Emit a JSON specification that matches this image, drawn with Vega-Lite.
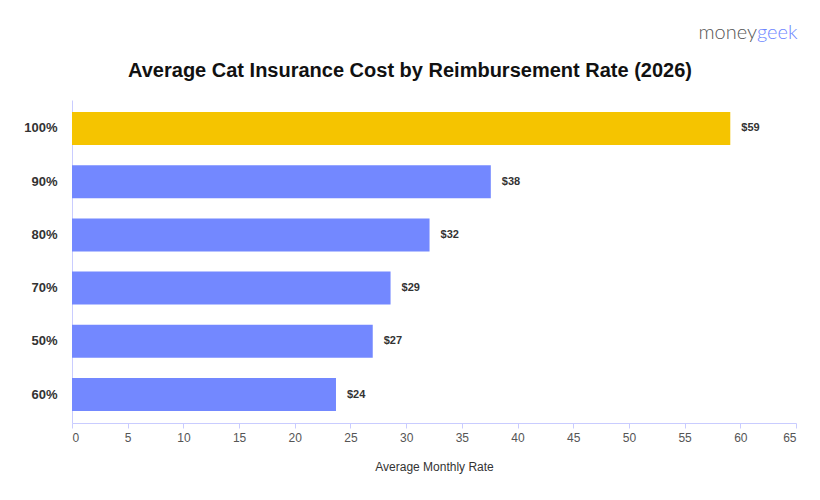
{
  "$schema": "https://vega.github.io/schema/vega-lite/v6.json",
  "autosize": {"type": "none"},
  "width": 724,
  "height": 323,
  "padding": {"left": 72, "top": 100, "right": 24, "bottom": 77},
  "background": "white",
  "title": {
    "text": "Average Cat Insurance Cost by Reimbursement Rate (2026)",
    "font": "Liberation Sans",
    "fontSize": 20,
    "fontWeight": "bold",
    "color": "#111111",
    "anchor": "middle",
    "dx": -24,
    "baseline": "alphabetic",
    "offset": -74
  },
  "config": {
    "view": {"stroke": null},
    "font": "Liberation Sans"
  },
  "datasets": {
    "rates": [
      {"rate": "100%", "cost": 59.1, "label": "$59", "highlight": "yes"},
      {"rate": "90%", "cost": 37.6, "label": "$38", "highlight": "no"},
      {"rate": "80%", "cost": 32.1, "label": "$32", "highlight": "no"},
      {"rate": "70%", "cost": 28.6, "label": "$29", "highlight": "no"},
      {"rate": "50%", "cost": 27.0, "label": "$27", "highlight": "no"},
      {"rate": "60%", "cost": 23.7, "label": "$24", "highlight": "no"}
    ],
    "logo1": [{"part": "money", "pos": 61.5}],
    "logo2": [{"part": "geek", "pos": 61.5}]
  },
  "layer": [
    {
      "data": {"name": "rates"},
      "mark": {"type": "bar"},
      "encoding": {
        "y": {
          "field": "rate",
          "type": "nominal",
          "sort": null,
          "scale": {"paddingInner": 0.38, "paddingOuter": 0.2256},
          "axis": {
            "title": null,
            "ticks": false,
            "labelFontSize": 13,
            "labelFontWeight": "bold",
            "labelColor": "#333333",
            "labelPadding": 15,
            "domainColor": "#c9ccff",
            "domainWidth": 1
          }
        },
        "x": {
          "field": "cost",
          "type": "quantitative",
          "scale": {"domain": [0, 65], "nice": false},
          "axis": {
            "title": "Average Monthly Rate",
            "titleFontSize": 12,
            "titleFontWeight": "normal",
            "titleColor": "#333333",
            "titlePadding": 18,
            "values": [0, 5, 10, 15, 20, 25, 30, 35, 40, 45, 50, 55, 60, 65],
            "grid": false,
            "labelFontSize": 12,
            "labelColor": "#555555",
            "labelPadding": 4,
            "tickColor": "#c9ccff",
            "tickSize": 5,
            "domainColor": "#c9ccff"
          }
        },
        "color": {
          "field": "highlight",
          "type": "nominal",
          "scale": {"domain": ["yes", "no"], "range": ["#F5C400", "#7388FF"]},
          "legend": null
        }
      }
    },
    {
      "data": {"name": "rates"},
      "mark": {"type": "text", "align": "left", "baseline": "middle", "dx": 11, "fontSize": 11, "fontWeight": "bold", "color": "#333333"},
      "encoding": {
        "y": {"field": "rate", "type": "nominal", "sort": null},
        "x": {"field": "cost", "type": "quantitative"},
        "text": {"field": "label"}
      }
    },
    {
      "data": {"name": "logo1"},
      "mark": {"type": "text", "align": "right", "baseline": "middle", "fontSize": 20, "font": "Lato", "fontWeight": 300, "color": "#555555"},
      "encoding": {
        "x": {"field": "pos", "type": "quantitative"},
        "y": {"value": -67},
        "text": {"field": "part"}
      }
    },
    {
      "data": {"name": "logo2"},
      "mark": {"type": "text", "align": "left", "baseline": "middle", "fontSize": 20, "font": "Lato", "fontWeight": 300, "color": "#6E86FF"},
      "encoding": {
        "x": {"field": "pos", "type": "quantitative"},
        "y": {"value": -67},
        "text": {"field": "part"}
      }
    }
  ]
}
